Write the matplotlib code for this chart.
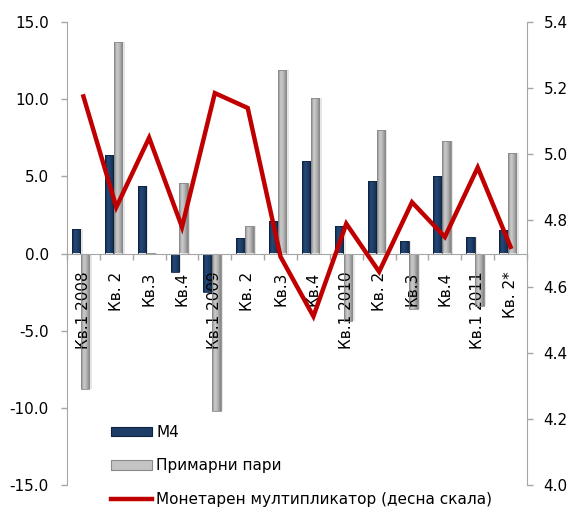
import numpy as np
import matplotlib
matplotlib.use("Agg")
import matplotlib.pyplot as plt
from matplotlib.patches import Patch
from matplotlib.lines import Line2D
from matplotlib.colors import LinearSegmentedColormap

# Quarterly data
quarters = ["Кв.1 2008", "Кв. 2", "Кв.3", "Кв.4",
            "Кв.1 2009", "Кв. 2", "Кв.3", "Кв.4",
            "Кв.1 2010", "Кв. 2", "Кв.3", "Кв.4",
            "Кв.1 2011", "Кв. 2*"]
m4 = [1.6, 6.4, 4.4, -1.2, -2.5, 1.0, 2.1, 6.0, 1.8, 4.7, 0.8, 5.0, 1.1, 1.5]
primary_money = [-8.8, 13.7, 0.05, 4.6, -10.2, 1.8, 11.9, 10.1, -4.4, 8.0, -3.6, 7.3, -3.4, 6.5]
multiplier = [5.175, 4.84, 5.05, 4.78, 5.185, 5.14, 4.69, 4.51, 4.79, 4.645,
              4.855, 4.75, 4.96, 4.72]

label_m4 = "М4"
label_pm = "Примарни пари"
label_mult = "Монетарен мултипликатор (десна скала)"

plt.rcParams["font.family"] = ["DejaVu Sans"]

W, H, DPI = 571, 515, 100
fig = plt.figure(figsize=(W / DPI, H / DPI), dpi=DPI)
ax = fig.add_axes([67 / W, 1 - 485 / H, (527 - 67) / W, (485 - 22) / H])
ax2 = ax.twinx()

x = np.arange(len(quarters))
bw = 0.26

navy_cmap = LinearSegmentedColormap.from_list(
    "navy", ["#10284a", "#25497a", "#1d3d66", "#10284a"])
gray_cmap = LinearSegmentedColormap.from_list(
    "gray", ["#858585", "#cfcfcf", "#b0b0b0", "#808080"])


def shaded_bars(axis, xs, vals, cmap, edge):
    # soft drop shadow
    axis.bar(xs + 0.07, vals, bw, bottom=0, color="#000000", alpha=0.10,
             linewidth=0, zorder=1.0)
    bars = axis.bar(xs, vals, bw, color="none", edgecolor=edge,
                    linewidth=0.6, zorder=1.6)
    grad = np.linspace(0, 1, 64).reshape(1, -1)
    for b in bars:
        x0, y0 = b.get_x(), b.get_y()
        w, h = b.get_width(), b.get_height()
        if h == 0:
            continue
        im = axis.imshow(grad, cmap=cmap, aspect="auto",
                         extent=[x0, x0 + w, min(y0, y0 + h), max(y0, y0 + h)],
                         zorder=1.5, interpolation="bicubic")
        im.set_clip_path(b)
    return bars


shaded_bars(ax, x - 0.22, np.array(m4), navy_cmap, "#0d2240")
shaded_bars(ax, x + 0.05, np.array(primary_money), gray_cmap, "#8a8a8a")

ax.set_xlim(-0.5, len(quarters) - 0.5)
ax.set_ylim(-15, 15)
ax.set_yticks(np.arange(-15, 15.1, 5))
ax.set_yticklabels([f"{v:.1f}" for v in np.arange(-15, 15.1, 5)])

ax2.plot(x, multiplier, color="#c00000", linewidth=3.2, zorder=5,
         solid_joinstyle="miter")
ax2.set_ylim(4.0, 5.4)
rt = np.arange(4.0, 5.41, 0.2)
ax2.set_yticks(rt)
ax2.set_yticklabels([f"{v:.1f}" for v in rt])

axis_col = "#a6a6a6"
for a in (ax, ax2):
    a.spines["top"].set_visible(False)
    for s in ("left", "right", "bottom"):
        a.spines[s].set_color(axis_col)
    a.patch.set_visible(False)
ax2.spines["bottom"].set_visible(False)
ax2.spines["left"].set_visible(False)
ax.spines["right"].set_visible(False)
ax.spines["bottom"].set_position(("data", 0))
ax.set_zorder(ax2.get_zorder() - 1)
ax2.patch.set_visible(False)

ax.tick_params(axis="y", direction="out", length=4, width=1, color=axis_col,
               labelsize=11, pad=9)
ax2.tick_params(axis="y", direction="out", length=4, width=1, color=axis_col,
                labelsize=11, pad=8)

ax.set_xticks(x)
ax.set_xticklabels(quarters, rotation=90, fontsize=11, va="top", ha="center")
ax.tick_params(axis="x", which="major", length=0, pad=13)
ax.set_xticks(np.arange(-0.5, len(quarters), 1), minor=True)
ax.tick_params(axis="x", which="minor", direction="out", length=4,
               color=axis_col, width=1)

handles = [
    Patch(facecolor="#1d3d66", edgecolor="#0d2240", linewidth=0.8),
    Patch(facecolor="#c4c4c4", edgecolor="#8a8a8a", linewidth=0.8),
    Line2D([0], [0], color="#c00000", linewidth=3.2),
]
fig.legend(handles, [label_m4, label_pm, label_mult], loc="upper left",
           bbox_to_anchor=(111 / W, 1 - 425 / H), frameon=False, fontsize=11,
           handlelength=2.7, handleheight=0.55, handletextpad=0.25,
           labelspacing=1.2, borderpad=0, borderaxespad=0)

fig.savefig("out.png", dpi=DPI)
